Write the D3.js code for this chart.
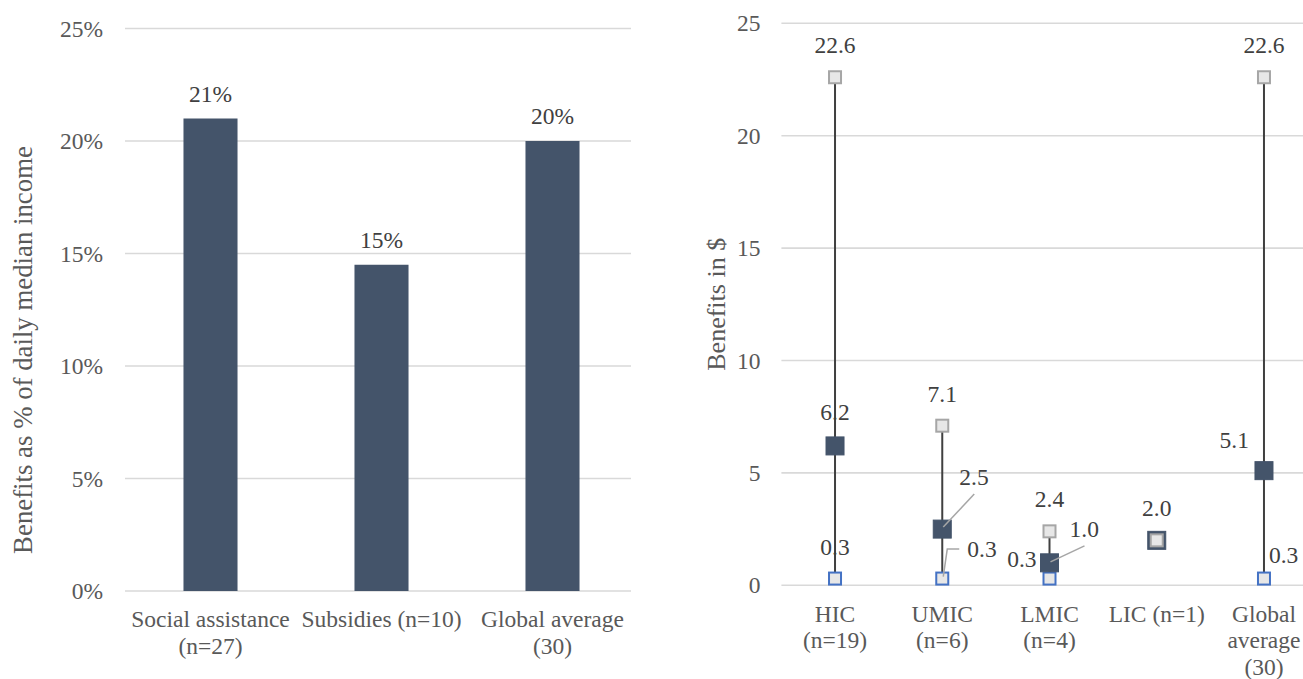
<!DOCTYPE html>
<html>
<head>
<meta charset="utf-8">
<script src="https://cdn.jsdelivr.net/npm/d3@7"></script>
<style>
  html, body { margin: 0; padding: 0; background: #ffffff; }
  svg, svg text { font-family: "Liberation Serif", "Times New Roman", Times, "DejaVu Serif", serif !important; }
</style>
</head>
<body>
<svg id="chart" width="1303" height="679"></svg>
<script>
// ---- Left panel: benefits as share of daily median income ----
const shareCategories = ["Social assistance (n=27)", "Subsidies (n=10)", "Global average (30)"];
const shareCategoryLines = [["Social assistance", "(n=27)"], ["Subsidies (n=10)"], ["Global average", "(30)"]];
const shareValues = [21, 14.5, 20];
const shareTicks = [0, 5, 10, 15, 20, 25];

// ---- Right panel: benefit amounts in $ by income group ----
const groupCategories = ["HIC (n=19)", "UMIC (n=6)", "LMIC (n=4)", "LIC (n=1)", "Global average (30)"];
const groupCategoryLines = [["HIC", "(n=19)"], ["UMIC", "(n=6)"], ["LMIC", "(n=4)"], ["LIC (n=1)"], ["Global", "average", "(30)"]];
const highValues = [22.6, 7.1, 2.4, 2.0, 22.6];
const medianValues = [6.2, 2.5, 1.0, 2.0, 5.1];
const lowValues = [0.3, 0.3, 0.3, 2.0, 0.3];
const amountTicks = [0, 5, 10, 15, 20, 25];

const svg = d3.select("#chart");
const fontSize = 23.5;
const titleSize = 26;
const gridColor = "#d9d9d9";
const tickColor = "#595959";
const labelColor = "#404040";
const barColor = "#44546a";

// ================= Left panel =================
const L = { left: 125, right: 638, top: 28.5, bottom: 591, gridRight: 631 };
const xL = d3.scaleBand().domain(shareCategories).range([L.left, L.right])
  .paddingInner(0.684).paddingOuter(0.342);
const yL = d3.scaleLinear().domain([0, 25]).range([L.bottom, L.top]);

const gL = svg.append("g");
gL.append("g").selectAll("line").data(shareTicks).join("line")
  .attr("x1", L.left).attr("x2", L.gridRight)
  .attr("y1", d => yL(d)).attr("y2", d => yL(d))
  .attr("stroke", gridColor).attr("stroke-width", 1.6);

const axL = gL.append("g").attr("transform", `translate(${L.left},0)`)
  .call(d3.axisLeft(yL).tickValues(shareTicks).tickSize(0).tickPadding(22).tickFormat(d => d + "%"));
axL.select(".domain").remove();
axL.attr("font-family", null).attr("font-size", null);
axL.selectAll("text").attr("font-size", fontSize).attr("fill", tickColor);

gL.selectAll("rect.bar").data(shareValues).join("rect").attr("class", "bar")
  .attr("x", (d, i) => xL(shareCategories[i]))
  .attr("width", xL.bandwidth())
  .attr("y", d => yL(d))
  .attr("height", d => yL(0) - yL(d))
  .attr("fill", barColor);

gL.selectAll("text.val").data(shareValues).join("text").attr("class", "val")
  .attr("x", (d, i) => xL(shareCategories[i]) + xL.bandwidth() / 2)
  .attr("y", d => yL(d) - 17)
  .attr("text-anchor", "middle").attr("font-size", fontSize).attr("fill", labelColor)
  .text(d => Math.round(d) + "%");

shareCategories.forEach((c, i) => {
  const t = gL.append("text").attr("text-anchor", "middle")
    .attr("font-size", fontSize).attr("fill", tickColor);
  shareCategoryLines[i].forEach((line, k) => {
    t.append("tspan").attr("x", xL(c) + xL.bandwidth() / 2)
      .attr("y", L.bottom + 36 + k * 26.6).text(line);
  });
});

gL.append("text")
  .attr("transform", "translate(23,350) rotate(-90)")
  .attr("text-anchor", "middle").attr("dominant-baseline", "central")
  .attr("font-size", 26.8).attr("fill", tickColor)
  .text("Benefits as % of daily median income");

// ================= Right panel =================
const R = { left: 781.4, right: 1317.6, top: 23.3, bottom: 585.3 };
const xR = d3.scalePoint().domain(groupCategories).range([R.left, R.right]).padding(0.5);
const yR = d3.scaleLinear().domain([0, 25]).range([R.bottom, R.top]);

const gR = svg.append("g");
gR.append("g").selectAll("line").data(amountTicks).join("line")
  .attr("x1", R.left).attr("x2", R.right)
  .attr("y1", d => yR(d)).attr("y2", d => yR(d))
  .attr("stroke", gridColor).attr("stroke-width", 1.6);

const axR = gR.append("g").attr("transform", `translate(${R.left},0)`)
  .call(d3.axisLeft(yR).tickValues(amountTicks).tickSize(0).tickPadding(21));
axR.select(".domain").remove();
axR.attr("font-family", null).attr("font-size", null);
axR.selectAll("text").attr("font-size", fontSize).attr("fill", tickColor);

// range lines from high to low
gR.selectAll("line.range").data(groupCategories).join("line").attr("class", "range")
  .attr("x1", d => xR(d)).attr("x2", d => xR(d))
  .attr("y1", (d, i) => yR(highValues[i])).attr("y2", (d, i) => yR(lowValues[i]))
  .attr("stroke", "#404040").attr("stroke-width", 2);

function squares(values, size, fill, stroke, sw) {
  gR.append("g").selectAll("rect").data(values).join("rect")
    .attr("x", (d, i) => xR(groupCategories[i]) - size / 2)
    .attr("y", d => yR(d) - size / 2)
    .attr("width", size).attr("height", size)
    .attr("fill", fill).attr("stroke", stroke).attr("stroke-width", sw);
}
squares(lowValues, 12, "#e7e7e7", "#4472c4", 2);
squares(medianValues, 18, barColor, barColor, 1);
squares(highValues, 12, "#e7e7e7", "#a6a6a6", 2);

// value label placement: [series, category index, dx, dy, anchor, leader points]
const labelPlacement = [
  ["high", 0, 0, -24, "middle"], ["median", 0, 0, -26, "middle"], ["low", 0, 0, -24, "middle"],
  ["high", 1, 0, -24, "middle"],
  ["median", 1, 17, -44, "start", [[1, -2], [32, -35]]],
  ["low", 1, 25, -21.5, "start", [[1, -2], [5, -29.5], [17, -29.5]]],
  ["high", 2, 0, -24, "middle"],
  ["median", 2, 20, -26, "start", [[1, -1], [35, -17]]],
  ["low", 2, -13, -11.5, "end"],
  ["high", 3, 0, -24, "middle"],
  ["high", 4, 0, -24, "middle"], ["median", 4, -15, -23, "end"], ["low", 4, 5, -16, "start"]
];
const seriesValues = { high: highValues, median: medianValues, low: lowValues };

const lbl = gR.append("g");
labelPlacement.forEach(([s, i, dx, dy, anchor, leader]) => {
  const v = seriesValues[s][i];
  const cx = xR(groupCategories[i]);
  const cy = yR(v);
  if (leader) {
    lbl.append("polyline")
      .attr("points", leader.map(p => `${cx + p[0]},${cy + p[1]}`).join(" "))
      .attr("fill", "none").attr("stroke", "#a6a6a6").attr("stroke-width", 1.5);
  }
  lbl.append("text").attr("x", cx + dx).attr("y", cy + dy)
    .attr("text-anchor", anchor).attr("font-size", fontSize).attr("fill", labelColor)
    .text(d3.format(".1f")(v));
});

groupCategories.forEach((c, i) => {
  const t = gR.append("text").attr("text-anchor", "middle")
    .attr("font-size", fontSize).attr("fill", tickColor);
  groupCategoryLines[i].forEach((line, k) => {
    t.append("tspan").attr("x", xR(c)).attr("y", R.bottom + 36.4 + k * 26.6).text(line);
  });
});

gR.append("text")
  .attr("transform", `translate(716,${(R.top + R.bottom) / 2}) rotate(-90)`)
  .attr("text-anchor", "middle").attr("dominant-baseline", "central")
  .attr("font-size", titleSize).attr("fill", tickColor)
  .text("Benefits in $");
</script>
</body>
</html>
